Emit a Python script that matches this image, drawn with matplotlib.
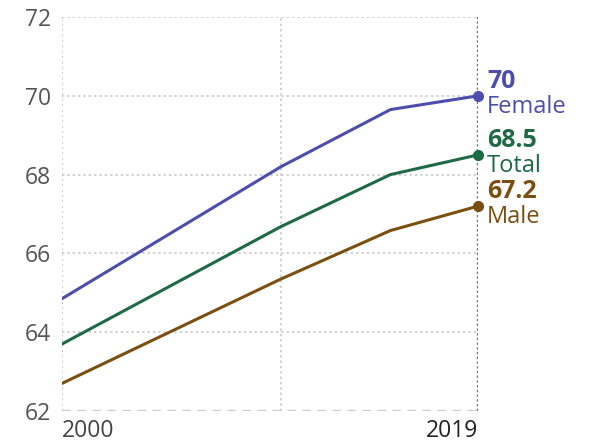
import matplotlib
matplotlib.use("Agg")
import matplotlib.pyplot as plt

years = [2000, 2010, 2015, 2019]
female = [64.85, 68.2, 69.65, 70.0]
total = [63.7, 66.68, 68.0, 68.5]
male = [62.7, 65.35, 66.58, 67.2]
series_names = ["Female", "Total", "Male"]
end_labels = ["70", "68.5", "67.2"]
colors = ["#4d4dae", "#1e6a45", "#7a4f10"]
yticks = [62, 64, 66, 68, 70, 72]

plt.rcParams['font.family'] = ['Open Sans', 'DejaVu Sans']

fig = plt.figure(figsize=(5.97, 4.46), dpi=100)
W, H = 597, 446
ax = fig.add_axes([62 / W, 35 / H, (478 - 62) / W, (411 - 17) / H])
ax.set_xlim(2000, 2019)
ax.set_ylim(62, 72)

for s in ax.spines.values():
    s.set_visible(False)

# grid
for y in yticks[1:]:
    ax.axhline(y, color="#c4c4c4", lw=1.1, ls=(0, (1.5, 2)), zorder=0)
ax.axhline(62, color="#cccccc", lw=2.4, ls=(0, (2.5, 2)), zorder=0)
for x in [2000, 2010]:
    ax.axvline(x, color="#c4c4c4", lw=1.1, ls=(0, (1.5, 2)), zorder=0)
ax.axvline(2019, color="#707070", lw=1.7, ls=(0, (1, 1)), zorder=0)

data = [female, total, male]
for vals, name, lab, c in zip(data, series_names, end_labels, colors):
    ax.plot(years, vals, color=c, lw=2.2, solid_capstyle='round', zorder=3)
    ax.plot([years[-1]], [vals[-1]], 'o', color=c, ms=7, zorder=4, clip_on=False)
    ax.annotate(lab, (years[-1], vals[-1]), xytext=(9, 2), textcoords='offset pixels',
                ha='left', va='bottom', color=c, fontsize=18, fontweight='bold')
    ax.annotate(name, (years[-1], vals[-1]), xytext=(9, 1), textcoords='offset pixels',
                ha='left', va='top', color=c, fontsize=17)

ax.set_yticks(yticks)
ax.set_yticklabels([str(v) for v in yticks])
ax.tick_params(axis='y', length=0, pad=8, labelsize=16.5, labelcolor="#555555")
ax.set_xticks([])

ax.annotate("2000", (2000, 62), xytext=(0, -8), textcoords='offset pixels',
            ha='left', va='top', fontsize=16.5, color="#444444")
ax.annotate("2019", (2019, 62), xytext=(0, -8), textcoords='offset pixels',
            ha='right', va='top', fontsize=16.5, color="#222222")

fig.savefig("out.png", dpi=100)
